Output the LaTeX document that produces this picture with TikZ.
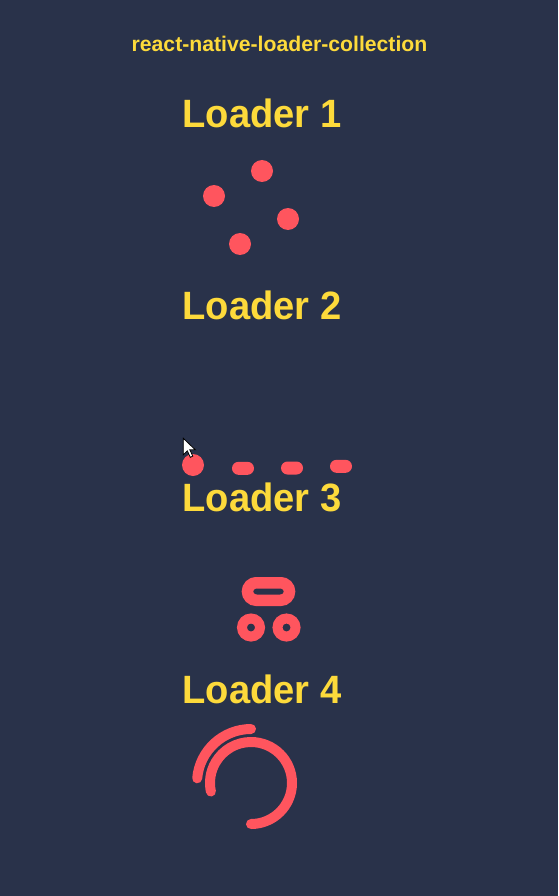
\documentclass[tikz,border=0pt]{standalone}
\usepackage{fontspec}
\setmainfont{Liberation Sans}
\newfontfamily\headfont{Liberation Sans}[FakeStretch=0.965]
\definecolor{navy}{RGB}{41,50,74}
\definecolor{sun}{RGB}{253,218,59}
\definecolor{coral}{RGB}{255,85,94}
\begin{document}
\begin{tikzpicture}[x = 1pt, y = -1pt]
    \tikzstyle{heading}=[text = sun, inner sep=0pt, anchor = base west, font = \headfont\bfseries\fontsize{39.5}{40}\selectfont]
    \tikzstyle{dot}=[circle, fill = coral, minimum size=22pt, inner sep=0pt]
    \tikzstyle{pill}=[rectangle, fill = coral, minimum width=22pt, minimum height=13pt, rounded corners=6.5pt, inner sep=0pt]
    \tikzstyle{ring}=[circle, draw = coral, line width=10pt, minimum size=18pt, inner sep=0pt]
    \tikzstyle{sweep}=[draw = coral, line width=10pt, line cap=round]
    
    \fill[navy] (0,0) rectangle (558,896);
    \node[text = sun, inner sep=0pt, anchor = base, font = \bfseries\fontsize{21.2}{22}\selectfont] (title) at (279.5,51.7) {react-native-loader-collection};
    
    \foreach \name/\y in {1/127.3, 2/319.3, 3/511.3, 4/703.3}
    \node[heading] (head-\name) at (182.5,\y) {Loader \name};
    
    % loader 1
    \foreach \name/\x/\y in {1/262/171, 2/214/196, 3/288/219, 4/240/244}
    \node[dot] (L1-\name) at (\x,\y) {};
    
    % loader 2
    \node[dot] (L2-1) at (193,465) {};
    \foreach \name/\x/\y in {2/243/468.3, 3/292/468, 4/341/466.3}
    \node[pill] (L2-\name) at (\x,\y) {};
    \draw[fill = white, draw = black, line width=0.8pt, line join=miter] (183.3,438.3) -- ++(0,16.5) -- ++(4,-4) -- ++(3,6.5) -- ++(2.5,-1.2) -- ++(-3,-6.3) -- ++(5.5,0) -- cycle;
    
    % loader 3
    \node[rectangle, draw = coral, line width=11.5pt, minimum width=42pt, minimum height=17.5pt, rounded corners=8.75pt, inner sep=0pt] (L3-1) at (268.5,591.5) {};
    \foreach \name/\x in {2/251, 3/286.5}
    \node[ring] (L3-\name) at (\x,627.5) {};
    
    % loader 4
    \coordinate (L4) at (251,783);
    \draw[sweep] (L4) ++(90:41) arc (90:-192:41);
    \draw[sweep] (L4) ++(-90:54) arc (-90:-175:54);
\end{tikzpicture}
\end{document}
